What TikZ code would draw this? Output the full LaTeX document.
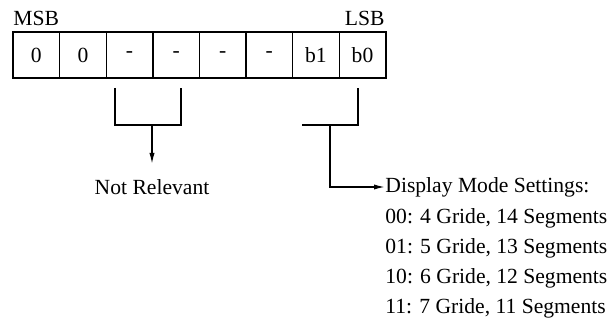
\documentclass[tikz,border=0pt]{standalone}
\usepackage{fontspec}
\setmainfont{Liberation Serif}
\usetikzlibrary{arrows.meta}

\tikzset{
    cell/.style={draw, line width=0.7pt, minimum width=23.3pt, minimum height=23pt,
                 inner sep=0pt, outer sep=0pt},
    lbl/.style={inner sep=0pt, font=\fontsize{10.8}{13}\selectfont},
    wire/.style={line width=0.7pt},
    arr/.style={wire, -{Latex[length=5.5pt, width=2.6pt]}}
}

\begin{document}
\begin{tikzpicture}[x=0.5pt, y=-0.5pt, every node/.append style={font=\fontsize{10.8}{13}\selectfont}]
    \useasboundingbox (0,0) rectangle (609,320);

    % register, bit 7 on the left
    \node[cell] (c7) at (36.3,55) {0};
    \node[cell] (c6) at (82.9,55) {0};
    \node[cell] (c5) at (129.5,55) {-};
    \node[cell] (c4) at (176.1,55) {-};
    \node[cell] (c3) at (222.7,55) {-};
    \node[cell] (c2) at (269.3,55) {-};
    \node[cell] (c1) at (315.9,55) {b1};
    \node[cell] (c0) at (362.5,55) {b0};

    \node[lbl, anchor=south west] (msb) at (13,26) {MSB};
    \node[lbl, anchor=south east] (lsb) at (385,26) {LSB};

    % unused bits
    \coordinate (nl1) at (115,88);
    \coordinate (nl2) at (115,125);
    \coordinate (nr1) at (181,88);
    \coordinate (nr2) at (181,125);
    \coordinate (nm) at (152,125);
    \node[lbl] (notrel) at (152,187) {Not Relevant};
    \draw[wire] (nl1) -- (nl2) -- (nr2) -- (nr1);
    \draw[arr] (nm) -- (152,164);

    % mode bits
    \coordinate (ml) at (302,125);
    \coordinate (mr2) at (358,125);
    \coordinate (mr1) at (358,88);
    \coordinate (mm) at (330,125);
    \node[lbl, anchor=west] (mode) at (385,187) {Display Mode Settings:};
    \draw[wire] (ml) -- (mr2) -- (mr1);
    \draw[arr] (mm) |- (mode.west);

    \node[lbl, anchor=west] (m0) at (385,218) {00: 4 Gride, 14 Segments};
    \node[lbl, anchor=west] (m1) at (385,248) {01: 5 Gride, 13 Segments};
    \node[lbl, anchor=west] (m2) at (385,278) {10: 6 Gride, 12 Segments};
    \node[lbl, anchor=west] (m3) at (385,308) {11: 7 Gride, 11 Segments};
\end{tikzpicture}
\end{document}
